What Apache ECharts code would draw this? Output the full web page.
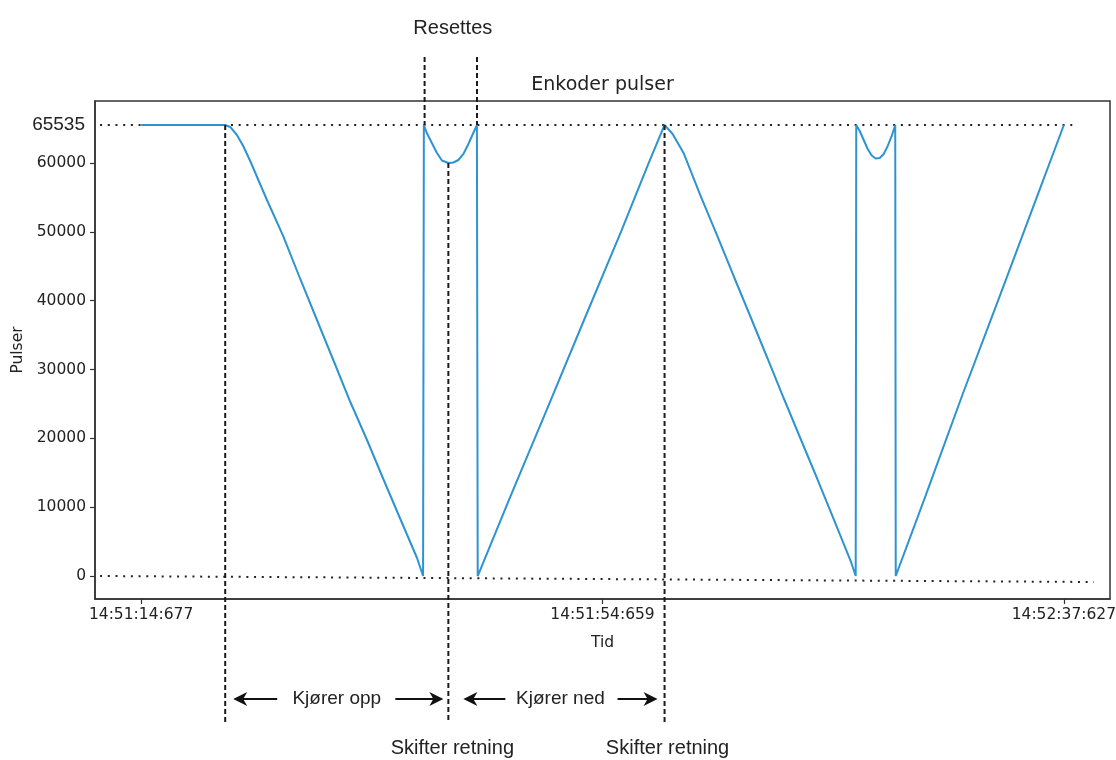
<!DOCTYPE html>
<html>
<head>
<meta charset="utf-8">
<script src="https://cdn.jsdelivr.net/npm/echarts@6/dist/echarts.min.js"></script>
<style>
  html, body { margin: 0; padding: 0; background: #fff; }
  #chart { width: 1116px; height: 760px; }
</style>
</head>
<body>
<div id="chart"></div>
<script>
// Encoder pulse count per logged sample (x = sample number, y = pulses)
const sampleIdx = [
  0, 4, 8, 12, 16, 18.22, 19.31,
  20.76, 22.13, 23.64, 27.27, 30.80, 34.49, 38.11, 41.65, 45.34, 48.96, 52.49, 56.18, 59.80, 61.11,
  61.28, 61.92, 63.02, 64.12, 65.20, 66.59, 67.68, 68.76, 69.85, 70.93, 71.80, 72.78,
  72.95, 80, 88, 96, 104, 110, 113.45,
  115.2, 117.57, 121.26, 124.88, 128.42, 132.10, 135.73, 139.26, 142.95, 146.57, 150.11, 153.80, 154.88,
  155.0, 155.75, 156.62, 157.48, 158.35, 159.22, 160.09, 160.95, 161.82, 162.69, 163.45,
  163.56, 170, 178, 186, 194, 200
];
const pulses = [
  65535, 65535, 65535, 65535, 65535, 65535, 65245,
  64082, 62484, 60304, 54637, 49377, 43157, 37199, 31387, 25284, 19762, 14095, 8283, 2616, 0,
  65535, 64373, 62920, 61467, 60376, 60013, 60086, 60449, 61322, 62775, 64082, 65535,
  0, 11500, 24300, 37200, 50000, 60000, 65535,
  64227, 61467, 55218, 49406, 43593, 37635, 31678, 25865, 19907, 14095, 8283, 2180, 0,
  65535, 64663, 63355, 62048, 61104, 60667, 60740, 61322, 62484, 63937, 65535,
  0, 11600, 26300, 40500, 54800, 65535
];

// Axis ticks
const xTickIdx = [0, 100, 200];
const xTickLabels = ['14:51:14:677', '14:51:54:659', '14:52:37:627'];
const yTicks = [0, 10000, 20000, 30000, 40000, 50000, 60000];
const counterMax = 65535;

// Dotted reference lines (sample, pulses) at the counter limits
const refTopIdx = [-8.9, 202.2];
const refTopVal = [65535, 65535];
const refZeroIdx = [-8.9, 206.5];
const refZeroVal = [0, -872];

// Annotated events (sample numbers)
const resetIdx = [61.44, 72.8];            // counter resets
const dirChangeIdx = [18.22, 66.59, 113.45]; // start, direction change, direction change
const dirChangeVal = [65535, 60013, 65535];

const INK = '#222';
const LINE_BLUE = '#2e93d1';
const MPL_FONT = '"DejaVu Sans", sans-serif';
const NOTE_FONT = '"Liberation Sans", Arial, sans-serif';

const chart = echarts.init(document.getElementById('chart'), null, { renderer: 'canvas' });

const option = {
  animation: false,
  backgroundColor: '#fff',
  grid: {
    left: 95, right: 6, top: 101, bottom: 161,
    containLabel: false, outerBoundsMode: 'none',
    show: true, borderColor: '#333', borderWidth: 1.5, backgroundColor: 'transparent'
  },
  xAxis: {
    type: 'value', min: -10, max: 210,
    name: 'Tid', nameLocation: 'middle', nameGap: 36,
    nameTextStyle: { fontFamily: MPL_FONT, fontSize: 15.5, color: INK },
    axisLine: { show: true, onZero: false, lineStyle: { color: '#333', width: 1.5 } },
    axisTick: { show: true, length: 5, customValues: xTickIdx, lineStyle: { color: '#333', width: 1.2 } },
    axisLabel: {
      customValues: xTickIdx, margin: 8, fontFamily: MPL_FONT, fontSize: 15.5, color: INK,
      formatter: v => { const k = xTickIdx.indexOf(v); return k >= 0 ? xTickLabels[k] : ''; }
    },
    splitLine: { show: false }
  },
  yAxis: {
    type: 'value', min: -3340, max: 69020,
    name: 'Pulser', nameLocation: 'middle', nameGap: 67, nameRotate: 90,
    nameTextStyle: { fontFamily: MPL_FONT, fontSize: 15.5, color: INK },
    axisLine: { show: true, onZero: false, lineStyle: { color: '#333', width: 1.5 } },
    axisTick: { show: true, length: 5, customValues: yTicks, lineStyle: { color: '#333', width: 1.2 } },
    axisLabel: {
      customValues: yTicks, margin: 9, fontFamily: MPL_FONT, fontSize: 15.5, color: INK,
      formatter: v => String(v)
    },
    splitLine: { show: false }
  },
  series: [
    {
      type: 'line', name: 'top', silent: true, symbol: 'none', z: 2,
      data: refTopIdx.map((x, i) => [x, refTopVal[i]]),
      lineStyle: { color: INK, width: 2, type: [2, 5.7] }
    },
    {
      type: 'line', name: 'zero', silent: true, symbol: 'none', z: 2,
      data: refZeroIdx.map((x, i) => [x, refZeroVal[i]]),
      lineStyle: { color: INK, width: 2, type: [2, 5.7] }
    },
    {
      type: 'line', name: 'Enkoder pulser', symbol: 'none', z: 3,
      data: sampleIdx.map((x, i) => [x, pulses[i]]),
      lineStyle: { color: LINE_BLUE, width: 2 }
    }
  ]
};
chart.setOption(option);

// Annotations placed through the chart's own scales
const toPx = (x, y) => chart.convertToPixel({ gridIndex: 0 }, [x, y]);
const dash = { stroke: '#1a1a1a', lineWidth: 2, lineDash: [5, 3] };
const g = [];

function vline(x, y1, y2) {
  g.push({ type: 'line', silent: true, z: 50, shape: { x1: x, y1: y1, x2: x, y2: y2 }, style: dash });
}
function text(str, x, y, font, align) {
  g.push({
    type: 'text', silent: true, z: 60,
    style: { text: str, x: x, y: y, font: font, fill: INK, align: align || 'center', verticalAlign: 'middle', textAlign: align || 'center', textVerticalAlign: 'middle' }
  });
}
function arrow(tail, tip, y) {
  const d = tip > tail ? 1 : -1;
  g.push({ type: 'line', silent: true, z: 55, shape: { x1: tail, y1: y, x2: tip - d * 8, y2: y }, style: { stroke: '#111', lineWidth: 2 } });
  g.push({
    type: 'polygon', silent: true, z: 56,
    shape: { points: [[tip, y], [tip - d * 14, y - 7], [tip - d * 10, y], [tip - d * 14, y + 7]] },
    style: { fill: '#111' }
  });
}

const topPx = toPx(0, counterMax)[1];
const bottomY = 722;
const noteY = 699;

// vertical markers at start and at the two direction changes
const dirPx = dirChangeIdx.map((x, i) => toPx(x, dirChangeVal[i]));
dirPx.forEach(p => vline(p[0], p[1], bottomY));

// reset markers above the plot
const resetPx = resetIdx.map(x => toPx(x, counterMax)[0]);
resetPx.forEach(x => vline(x, 57, topPx));
text('Resettes', (resetPx[0] + resetPx[1]) / 2 + 2, 28, '20px ' + NOTE_FONT);

// travel direction notes
const [L, M, R] = dirPx.map(p => p[0]);
arrow(L + 52, L + 8, noteY);
text('Kjører opp', (L + M) / 2, noteY, '19px ' + NOTE_FONT);
arrow(M - 53, M - 5, noteY);
arrow(M + 57, M + 15, noteY);
text('Kjører ned', (M + R) / 2 + 4, noteY, '19px ' + NOTE_FONT);
arrow(R - 47, R - 7, noteY);
text('Skifter retning', M + 4, 748, '20px ' + NOTE_FONT);
text('Skifter retning', R + 3, 748, '20px ' + NOTE_FONT);

// counter maximum label and chart title
text(String(counterMax), 85, topPx, '19px ' + NOTE_FONT, 'right');
const gridLeft = toPx(-10, 0)[0], gridRight = toPx(210, 0)[0];
text('Enkoder pulser', (gridLeft + gridRight) / 2, 85, '19px ' + MPL_FONT);

chart.setOption({ graphic: { elements: g } });
</script>
</body>
</html>
